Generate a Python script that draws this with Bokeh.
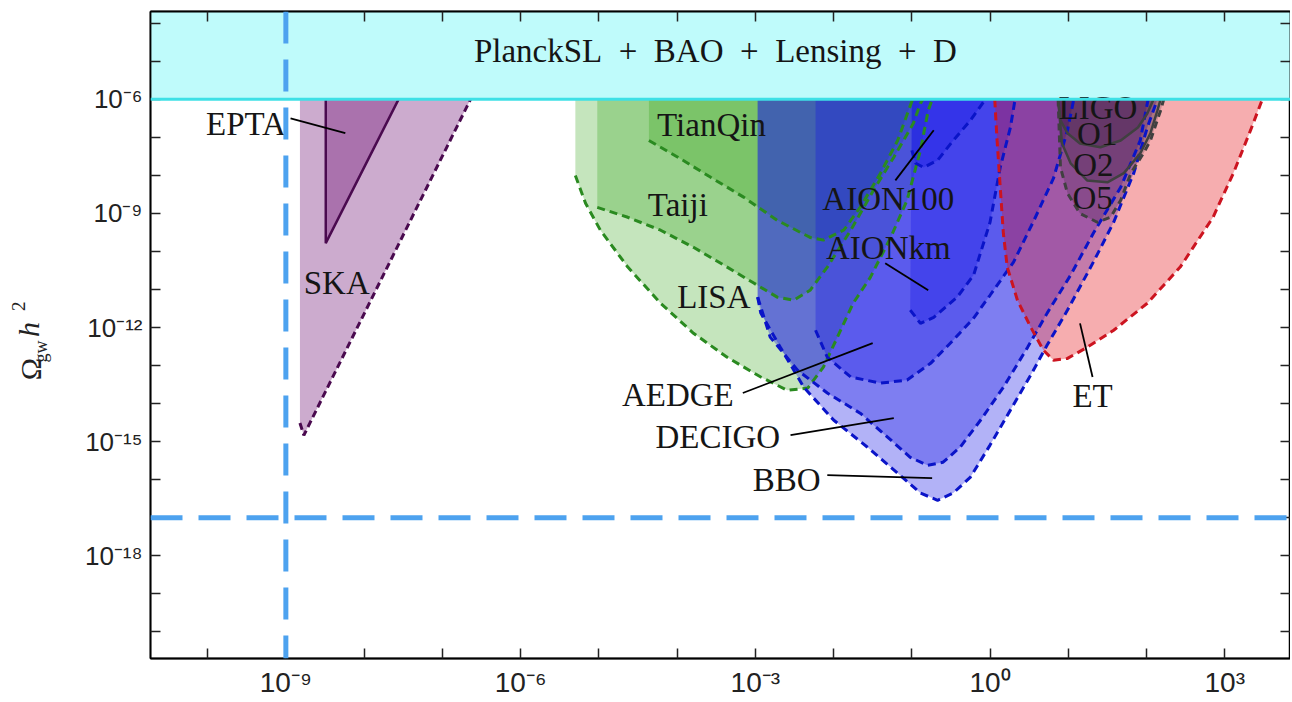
import numpy as np
from bokeh.plotting import figure
from bokeh.layouts import row
from bokeh.models import Range1d, LogAxis, FixedTicker, Span
from bokeh.core.properties import value
from bokeh.embed import file_html
from bokeh.resources import INLINE

# all values are log10: frequency f [Hz] on x, Omega_gw h^2 on y
f_lim = (-10.73, 3.84)
o_lim = (-20.70, -3.69)
x_exps = list(range(-10, 4))
x_shown = [-9, -6, -3, 0, 3]
y_exps = list(range(-20, -3))
y_shown = [-18, -15, -12, -9, -6]

band_floor = -6.0      # PlanckSL + BAO + Lensing + D bound
band_text = "PlanckSL\u2002+\u2002BAO\u2002+\u2002Lensing\u2002+\u2002D"
band_pos = (-3.51, -4.74)
pta_freq = -9.0        # vertical dashed reference
omega_ref = -17.0      # horizontal dashed reference

# sensitivity regions (left edge, then boundary curve)
ska_edge = -8.82
ska_f = [-8.82, -8.77, -6.64]
ska_o = [-14.51, -14.83, -6.0]

epta_f = [-8.49, -8.49, -7.56]
epta_o = [-6.0, -9.78, -6.0]

lisa_edge = -5.30
lisa_f = [-5.30, -5.17, -4.98, -4.63, -4.21, -3.79, -3.36, -2.93, -2.59, -2.33, -2.13,
          -1.95, -1.75, -1.53, -1.27, -1.06, -0.89, -0.79, -0.74]
lisa_o = [-8.00, -8.73, -9.44, -10.41, -11.36, -12.15, -12.78, -13.30, -13.65, -13.59, -13.04,
          -12.25, -11.36, -10.68, -9.63, -8.65, -7.34, -6.29, -6.0]

taiji_edge = -5.02
taiji_f = [-5.02, -4.63, -4.21, -3.79, -3.36, -3.02, -2.72, -2.51, -2.30, -2.08, -1.78,
           -1.49, -1.23, -0.98, -0.89, -0.86]
taiji_o = [-8.84, -9.10, -9.44, -9.89, -10.41, -10.83, -11.20, -11.28, -11.02, -10.41, -9.44,
           -8.39, -7.52, -6.63, -6.11, -6.0]

tianqin_edge = -4.36
tianqin_f = [-4.36, -3.99, -3.57, -3.15, -2.72, -2.30, -2.13, -1.87, -1.66, -1.40, -1.18, -1.05, -0.99]
tianqin_o = [-7.08, -7.52, -8.05, -8.57, -9.18, -9.63, -9.70, -9.44, -8.84, -7.94, -7.08, -6.34, -6.0]

bbo_edge = -2.97
bbo_f = [-2.97, -2.93, -2.68, -2.38, -2.00, -1.57, -1.18, -0.89, -0.67, -0.47, -0.25, 0.00,
         0.26, 0.52, 0.73, 0.99, 1.32, 1.58, 1.84, 2.01, 2.14]
bbo_o = [-11.20, -11.62, -12.52, -13.57, -14.43, -15.14, -15.83, -16.35, -16.54, -16.35, -15.93, -15.09,
         -14.17, -13.25, -12.46, -11.54, -10.28, -9.23, -7.92, -6.74, -6.0]

decigo_edge = -2.97
decigo_f = [-2.97, -2.81, -2.46, -2.08, -1.66, -1.31, -1.02, -0.80, -0.60, -0.38, -0.12, 0.17,
            0.48, 0.73, 1.03, 1.32, 1.67, 1.92, 2.02]
decigo_o = [-11.20, -12.25, -13.12, -13.72, -14.25, -14.88, -15.41, -15.62, -15.54, -15.14, -14.43, -13.57,
            -12.52, -11.62, -10.62, -9.52, -8.31, -7.08, -6.0]

aedge_edge = -2.23
aedge_f = [-2.23, -2.08, -1.78, -1.40, -1.06, -0.76, -0.47, -0.21, 0.00, 0.30, 0.55, 0.81, 0.99, 1.07]
aedge_o = [-12.07, -12.78, -13.30, -13.46, -13.38, -12.94, -12.33, -11.75, -11.15, -10.28, -9.23, -8.08, -6.81, -6.0]

aionkm_edge = -1.00
aionkm_f = [-1.02, -0.89, -0.72, -0.42, -0.21, 0.00, 0.13, 0.26, 0.32]
aionkm_o = [-11.54, -11.89, -11.73, -11.20, -10.62, -9.23, -7.79, -6.74, -6.0]

aion100_edge = -1.00
aion100_f = [-1.00, -0.95, -0.85, -0.67, -0.47, -0.25, -0.06]
aion100_o = [-7.34, -7.68, -7.79, -7.60, -7.08, -6.55, -6.0]

et_f = [0.06, 0.09, 0.13, 0.17, 0.22, 0.35, 0.52, 0.68, 0.81, 0.99, 1.24, 1.58, 2.01, 2.43, 2.85, 3.11, 3.33, 3.48]
et_o = [-6.0, -7.08, -8.31, -9.52, -10.41, -11.28, -11.99, -12.59, -12.86, -12.81, -12.52, -12.07,
        -11.36, -10.41, -9.10, -7.94, -6.81, -6.0]

o5_f = [0.87, 0.90, 0.99, 1.15, 1.37, 1.54, 1.67, 1.80, 1.96, 2.05, 2.18, 2.22]
o5_o = [-6.0, -7.79, -8.47, -9.00, -9.23, -9.10, -8.65, -7.94, -7.42, -7.08, -6.29, -6.0]
o2_f = [0.87, 0.92, 1.03, 1.24, 1.50, 1.71, 1.92, 2.05, 2.14, 2.18]
o2_o = [-6.0, -7.16, -7.68, -8.13, -8.18, -7.94, -7.42, -6.89, -6.29, -6.0]
o1_f = [0.87, 0.90, 0.99, 1.15, 1.41, 1.67, 1.89, 2.01, 2.09]
o1_o = [-6.0, -6.55, -6.89, -7.16, -7.26, -7.08, -6.74, -6.37, -6.0]

# labels and their pointer lines
label_text = ["EPTA", "SKA", "TianQin", "Taiji", "LISA", "AION100", "AIONkm", "AEDGE",
              "DECIGO", "BBO", "LIGO", "O1", "O2", "O5", "ET"]
label_f = [-9.51, -8.35, -3.56, -3.99, -3.53, -1.30, -1.30, -3.99, -3.48, -2.60, 1.38, 1.37, 1.32, 1.31, 1.31]
label_o = [-6.66, -10.83, -6.68, -8.79, -11.20, -8.63, -9.91, -13.78, -14.88, -16.01, -6.24, -6.92, -7.73, -8.60, -13.80]

ptr_f0 = [-8.94, -1.21, -1.34, -3.16, -2.55, -2.08, 1.15]
ptr_o0 = [-6.50, -8.13, -10.31, -13.72, -14.83, -15.88, -11.89]
ptr_f1 = [-8.24, -0.72, -0.79, -1.50, -1.23, -0.74, 1.31]
ptr_o1 = [-6.89, -6.81, -11.02, -12.41, -14.38, -15.96, -13.30]

# y axis title pieces: Omega, gw (subscript), h, 2 (superscript)
ytitle_text = ["\u03a9", "gw", "h", "2"]
ytitle_size = ["30px", "18px", "30px", "19px"]
ytitle_style = ["normal", "normal", "italic", "normal"]


def pw(a):
    return 10.0 ** np.asarray(a, dtype=float)


SUP = str.maketrans("-0123456789", "\u207b\u2070\u00b9\u00b2\u00b3\u2074\u2075\u2076\u2077\u2078\u2079")


def overrides(exps, shown):
    return {float(10.0 ** e): ("10" + str(e).translate(SUP) if e in shown else "") for e in exps}


p = figure(x_axis_type="log", y_axis_type="log",
           x_range=Range1d(10 ** f_lim[0], 10 ** f_lim[1]),
           y_range=Range1d(10 ** o_lim[0], 10 ** o_lim[1]),
           frame_width=1140, frame_height=647,
           min_border_left=92, min_border_right=0, min_border_top=11, min_border_bottom=40,
           output_backend="svg", toolbar_location=None)
p.grid.visible = False
p.outline_line_color = "black"
p.outline_line_width = 1.5


def style_axis(ax, exps, shown, size):
    ax.ticker = FixedTicker(ticks=[float(10.0 ** e) for e in exps])
    ax.major_label_overrides = overrides(exps, shown)
    ax.major_tick_in = 10
    ax.major_tick_out = 0
    ax.minor_tick_line_color = None
    ax.major_tick_line_width = 1.5
    ax.major_tick_line_color = "#222222"
    ax.axis_line_color = "black"
    ax.axis_line_width = 1.8
    ax.major_label_text_font = "Liberation Sans"
    ax.major_label_text_font_size = size
    ax.major_label_text_color = "#222222"
    ax.major_label_standoff = 8


style_axis(p.xaxis[0], x_exps, x_shown, "28px")
style_axis(p.yaxis[0], y_exps, y_shown, "26px")
top = LogAxis()
style_axis(top, x_exps, [], "0px")
top.major_label_standoff = 0
p.add_layout(top, "above")
right = LogAxis()
style_axis(right, y_exps, [], "0px")
right.major_label_standoff = 0
p.add_layout(right, "right")

purple, purple_line = "#64006a", "#4a0a4f"
green, green_line = "#2aa00a", "#2a8a20"
blue, blue_line = "#1414e6", "#0a14c8"
red, red_line = "#e6141a", "#cc1420"
ligo, ligo_line = "#281428", "#404040"


def region(edge, fs, os, fill, alpha):
    if edge is None:
        xs, ys = list(fs), list(os)
    else:
        xs, ys = [edge] + list(fs), [band_floor] + list(os)
    p.patch(pw(xs), pw(ys), fill_color=fill, fill_alpha=alpha, line_color=None)


def outline(fs, os, color, dash="8 5", width=3):
    p.line(pw(fs), pw(os), line_color=color, line_width=width, line_dash=dash)


region(ska_edge, ska_f, ska_o, purple, 0.33)
region(None, epta_f, epta_o, purple, 0.33)
region(lisa_edge, lisa_f, lisa_o, green, 0.27)
region(taiji_edge, taiji_f, taiji_o, green, 0.27)
region(tianqin_edge, tianqin_f, tianqin_o, green, 0.27)
region(bbo_edge, bbo_f, bbo_o, blue, 0.33)
region(decigo_edge, decigo_f, decigo_o, blue, 0.33)
region(aedge_edge, aedge_f, aedge_o, blue, 0.33)
region(aionkm_edge, aionkm_f, aionkm_o, blue, 0.33)
region(aion100_edge, aion100_f, aion100_o, blue, 0.33)
region(None, et_f, et_o, red, 0.35)
region(None, o5_f, o5_o, ligo, 0.2)
region(None, o2_f, o2_o, ligo, 0.2)
region(None, o1_f, o1_o, ligo, 0.2)

outline(ska_f, ska_o, purple_line, dash="7 4")
outline(epta_f, epta_o, purple_line, dash="solid", width=2.5)
outline(lisa_f, lisa_o, green_line)
outline(taiji_f, taiji_o, green_line)
outline(tianqin_f, tianqin_o, green_line)
outline(bbo_f, bbo_o, blue_line)
outline(decigo_f, decigo_o, blue_line)
outline(aedge_f, aedge_o, blue_line)
outline(aionkm_f, aionkm_o, blue_line)
outline(aion100_f, aion100_o, blue_line)
outline(et_f, et_o, red_line)
outline(o5_f, o5_o, ligo_line, dash="7 5")
outline(o2_f, o2_o, ligo_line, dash="solid", width=2.5)
outline(o1_f, o1_o, ligo_line, dash="solid", width=2.5)

# cosmological bound band
p.quad(left=10 ** f_lim[0], right=10 ** f_lim[1], bottom=10 ** band_floor, top=10 ** o_lim[1],
       fill_color="#bffbfb", line_color=None)

serif = value("Liberation Serif")
p.segment(pw(ptr_f0), pw(ptr_o0), pw(ptr_f1), pw(ptr_o1), line_color="black", line_width=1.8)
p.text(pw(label_f), pw(label_o), text=label_text, text_font=serif, text_font_size="33px",
       text_align="center", text_baseline="middle", text_color="#151515")
p.text([10 ** band_pos[0]], [10 ** band_pos[1]], text=[band_text], text_font=serif,
       text_font_size="33px", text_align="center", text_baseline="middle", text_color="#151515")

p.add_layout(Span(location=10 ** band_floor, dimension="width", line_color="#3ee0e6", line_width=3))
p.add_layout(Span(location=10 ** pta_freq, dimension="height", line_color="#4da2ef",
                  line_width=5, line_dash="32 16"))
p.add_layout(Span(location=10 ** omega_ref, dimension="width", line_color="#4da2ef",
                  line_width=5, line_dash="32 16"))

# narrow strip to the left carrying the rotated y axis title
side_w, side_h = 58, 698
side = figure(width=side_w, height=side_h, x_range=Range1d(0, side_w), y_range=Range1d(0, side_h),
              min_border=0, x_axis_location=None, y_axis_location=None,
              output_backend="svg", toolbar_location=None)
side.grid.visible = False
side.outline_line_color = None
title_x = [30, 40, 28, 18]
title_y = [side_h - 387, side_h - 368, side_h - 344, side_h - 319]
for txt, tx, ty, size, style in zip(ytitle_text, title_x, title_y, ytitle_size, ytitle_style):
    side.text([tx], [ty], text=[txt], angle=np.pi / 2, text_font=serif, text_font_size=size,
              text_font_style=style, text_align="center", text_baseline="middle",
              text_color="#222222")

layout = row(side, p, spacing=0)
open("out.html", "w").write(file_html(layout, INLINE))
